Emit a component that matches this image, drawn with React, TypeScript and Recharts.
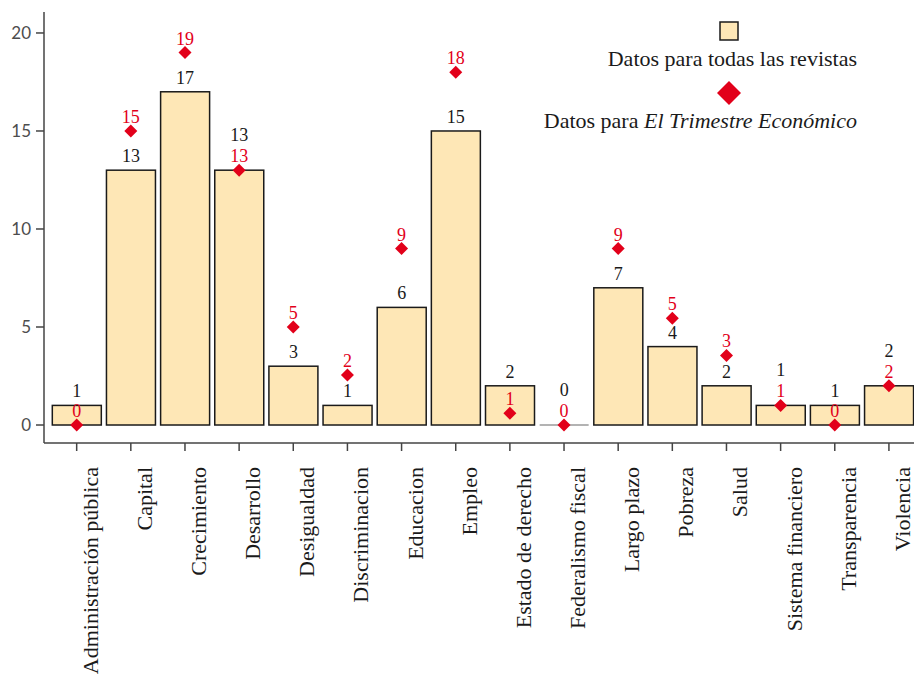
import React from 'react';
import { ComposedChart, Bar, Line, XAxis, YAxis, LabelList, Legend } from 'recharts';

const categories = [
  'Administración pública',
  'Capital',
  'Crecimiento',
  'Desarrollo',
  'Desigualdad',
  'Discriminacion',
  'Educacion',
  'Empleo',
  'Estado de derecho',
  'Federalismo fiscal',
  'Largo plazo',
  'Pobreza',
  'Salud',
  'Sistema financiero',
  'Transparencia',
  'Violencia',
];
const allJournals = [1, 13, 17, 13, 3, 1, 6, 15, 2, 0, 7, 4, 2, 1, 1, 2];
const teeValues = [0, 15, 19, 13, 5, 2.55, 9, 18, 0.6, 0, 9, 5.45, 3.55, 1, 0, 2];
const teeLabels = [0, 15, 19, 13, 5, 2, 9, 18, 1, 0, 9, 5, 3, 1, 0, 2];
const yTicks = [0, 5, 10, 15, 20];
const legendAll = 'Datos para todas las revistas';
const legendTeePrefix = 'Datos para ';
const legendTeeItalic = 'El Trimestre Económico';

const RED = '#e2001a';
const FILL = '#fee7b6';
const INK = '#1a1a1a';
const AXIS = '#444444';
const SERIF = '"Liberation Serif", "DejaVu Serif", serif';
const SANS = 'Lato, "Open Sans", sans-serif';

const data = categories.map((c, i) => ({
  category: c,
  todas: allJournals[i],
  tee: teeValues[i],
  teeLabel: teeLabels[i],
}));

const BarShape = (props: any) => {
  const { x, y, width, height } = props;
  if (!height || Math.abs(height) < 0.5) {
    return <line x1={x} x2={x + width} y1={y} y2={y} stroke="#9a9a9a" strokeWidth={1.5} />;
  }
  return <rect x={x} y={y} width={width} height={height} fill={FILL} stroke={INK} strokeWidth={1.5} />;
};

const BarLabel = (props: any) => {
  const { x, y, width, value, index } = props;
  const shift = teeValues[index] === allJournals[index] ? 21 : 0;
  return (
    <text x={x + width / 2} y={y - 8 - shift} textAnchor="middle" fontFamily={SERIF} fontSize={18} fill={INK}>
      {value}
    </text>
  );
};

const TeeLabel = (props: any) => {
  const { x, y, value } = props;
  return (
    <text x={x} y={y - 8} textAnchor="middle" fontFamily={SERIF} fontSize={18} fill={RED}>
      {value}
    </text>
  );
};

const Diamond = (props: any) => {
  const { cx, cy } = props;
  if (cx == null || cy == null) return null;
  const r = 6.5;
  return <path d={`M${cx},${cy - r}L${cx + r},${cy}L${cx},${cy + r}L${cx - r},${cy}Z`} fill={RED} />;
};

const CatTick = (props: any) => {
  const { x, y, payload } = props;
  return (
    <text
      transform={`translate(${x + 21},${y + 14}) rotate(-90)`}
      textAnchor="end"
      fontFamily={SERIF}
      fontSize={22}
      fill={INK}
    >
      {payload.value}
    </text>
  );
};

const LegendContent = () => (
  <svg width={914} height={150} style={{ display: 'block' }}>
    <rect x={720} y={22} width={18} height={18} fill={FILL} stroke={INK} strokeWidth={1.5} />
    <text x={857} y={66} textAnchor="end" fontFamily={SERIF} fontSize={22} fill={INK}>
      {legendAll}
    </text>
    <path d="M729,81L741,93L729,105L717,93Z" fill={RED} />
    <text x={857} y={128} textAnchor="end" fontFamily={SERIF} fontSize={22} fill={INK}>
      {legendTeePrefix}
      <tspan fontStyle="italic">{legendTeeItalic}</tspan>
    </text>
  </svg>
);

export default function App() {
  return (
    <div
      style={{
        position: 'absolute',
        left: 0,
        top: 0,
        width: 914,
        height: 679,
        overflow: 'hidden',
        background: '#ffffff',
      }}
    >
      <ComposedChart
        width={916}
        height={679}
        data={data}
        margin={{ top: 12, right: 0, bottom: 0, left: 0 }}
        barCategoryGap="5%"
      >
        <XAxis
          dataKey="category"
          type="category"
          interval={0}
          height={236}
          tickSize={8}
          padding={{ left: 5.6, right: 0 }}
          axisLine={{ stroke: AXIS, strokeWidth: 1.5 }}
          tickLine={{ stroke: AXIS, strokeWidth: 1.5 }}
          tick={<CatTick />}
        />
        <YAxis
          type="number"
          domain={[-0.918, 21.07]}
          ticks={yTicks}
          allowDataOverflow
          width={44}
          tickSize={8}
          tickMargin={5}
          axisLine={{ stroke: AXIS, strokeWidth: 1.5 }}
          tickLine={{ stroke: AXIS, strokeWidth: 1.5 }}
          tick={{ fill: '#4d4d4d', fontSize: 17, fontFamily: SANS }}
        />
        <Legend
          layout="horizontal"
          verticalAlign="middle"
          align="center"
          content={<LegendContent />}
          wrapperStyle={{ position: 'absolute', left: 0, top: 0, width: 914, height: 150, margin: 0, padding: 0 }}
        />
        <Bar dataKey="todas" shape={<BarShape />} isAnimationActive={false} legendType="square">
          <LabelList dataKey="todas" content={<BarLabel />} />
        </Bar>
        <Line
          dataKey="tee"
          stroke="none"
          dot={<Diamond />}
          activeDot={false}
          isAnimationActive={false}
          legendType="diamond"
        >
          <LabelList dataKey="teeLabel" content={<TeeLabel />} />
        </Line>
      </ComposedChart>
    </div>
  );
}
